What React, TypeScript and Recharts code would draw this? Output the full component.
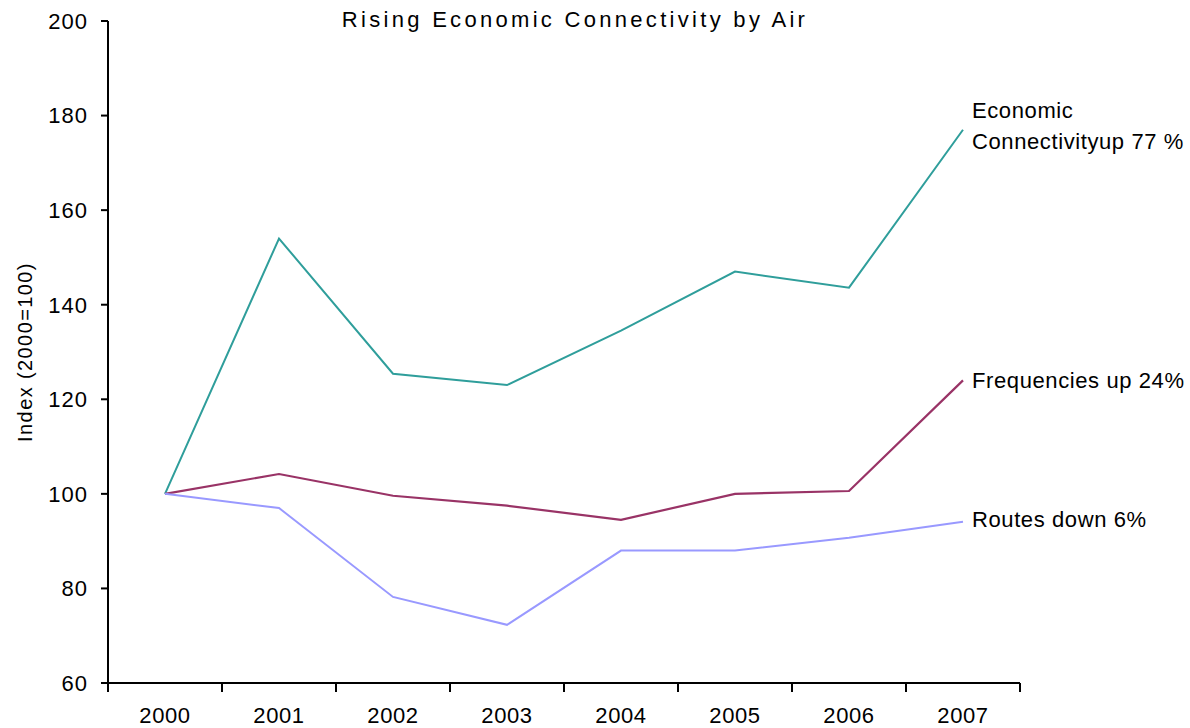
import React from 'react';
import { LineChart, Line, XAxis, YAxis } from 'recharts';

const years = ['2000', '2001', '2002', '2003', '2004', '2005', '2006', '2007'];
const connectivity = [100, 154, 125.4, 123, 134.5, 147, 143.6, 177];
const frequencies = [100, 104.2, 99.6, 97.5, 94.5, 100, 100.6, 124];
const routes = [100, 97, 78.2, 72.3, 88, 88, 90.7, 94.1];
const yTicks = [60, 80, 100, 120, 140, 160, 180, 200];

const data = years.map((year, i) => ({
  i,
  year,
  connectivity: connectivity[i],
  frequencies: frequencies[i],
  routes: routes[i],
}));

// ticks at band edges (marks) and band centres (labels)
const xTicks: number[] = [];
for (let k = 0; k <= years.length; k++) {
  xTicks.push(k - 0.5);
  if (k < years.length) xTicks.push(k);
}

const FONT = '"Liberation Sans", Arial, sans-serif';

const XTick = (props: any) => {
  const { x, y, payload } = props;
  const v = payload.value;
  if (Number.isInteger(v)) {
    return (
      <text x={x} y={y + 40} textAnchor="middle" fill="#000" fontSize={22} fontFamily={FONT} letterSpacing={0.6}>
        {years[v]}
      </text>
    );
  }
  return <line x1={x} y1={y} x2={x} y2={y + 9} stroke="#000" strokeWidth={2} />;
};

const endLabel = (lines: string[], dy: number) => (props: any) => {
  const { x, y, index } = props;
  if (index !== years.length - 1) return null;
  const lineH = 31;
  const start = y + dy;
  return (
    <text x={x + 9} y={start} fill="#000" fontSize={22} fontFamily={FONT} letterSpacing={0.6}>
      {lines.map((t, k) => (
        <tspan key={k} x={x + 9} y={start + k * lineH}>{t}</tspan>
      ))}
    </text>
  );
};

const App: React.FC = () => {
  return (
    <div style={{ position: 'absolute', left: 0, top: 0, width: 1190, height: 728, background: '#fff' }}>
      <div
        style={{
          position: 'absolute',
          left: 0,
          top: 9,
          width: 1150,
          textAlign: 'center',
          fontFamily: FONT,
          fontSize: 22,
          lineHeight: '22px',
          letterSpacing: 3.3,
          color: '#000',
        }}
      >
        Rising Economic Connectivity by Air
      </div>
      <LineChart width={1190} height={728} data={data} margin={{ top: 21, right: 170, bottom: 0, left: 0 }}>
        <XAxis
          dataKey="i"
          type="number"
          domain={[-0.5, 7.5]}
          ticks={xTicks}
          interval={0}
          height={45}
          tickSize={0}
          tickMargin={0}
          tickLine={false}
          axisLine={{ stroke: '#000', strokeWidth: 2 }}
          tick={<XTick />}
        />
        <YAxis
          width={108}
          domain={[60, 200]}
          ticks={yTicks}
          interval={0}
          tickSize={7}
          tickMargin={13}
          axisLine={{ stroke: '#000', strokeWidth: 2 }}
          tickLine={{ stroke: '#000', strokeWidth: 2 }}
          tick={{ fill: '#000', fontSize: 22, fontFamily: FONT, letterSpacing: 1 }}
          label={{
            content: (p: any) => {
              const vb = p.viewBox || {};
              const cx = 25;
              const cy = (vb.y ?? 21) + (vb.height ?? 662) / 2;
              return (
                <text
                  x={cx}
                  y={cy}
                  transform={`rotate(-90 ${cx} ${cy})`}
                  textAnchor="middle"
                  dominantBaseline="central"
                  fill="#000"
                  fontSize={20}
                  fontFamily={FONT}
                  letterSpacing={1.4}
                >
                  Index (2000=100)
                </text>
              );
            },
          }}
        />
        <Line
          type="linear"
          dataKey="connectivity"
          stroke="#2f9e9b"
          strokeWidth={2}
          dot={false}
          isAnimationActive={false}
          label={endLabel(['Economic', 'Connectivityup 77 %'], -12)}
        />
        <Line
          type="linear"
          dataKey="frequencies"
          stroke="#993366"
          strokeWidth={2.2}
          dot={false}
          isAnimationActive={false}
          label={endLabel(['Frequencies up 24%'], 8)}
        />
        <Line
          type="linear"
          dataKey="routes"
          stroke="#9999ff"
          strokeWidth={2}
          dot={false}
          isAnimationActive={false}
          label={endLabel(['Routes down 6%'], 5)}
        />
      </LineChart>
    </div>
  );
};

export default App;
